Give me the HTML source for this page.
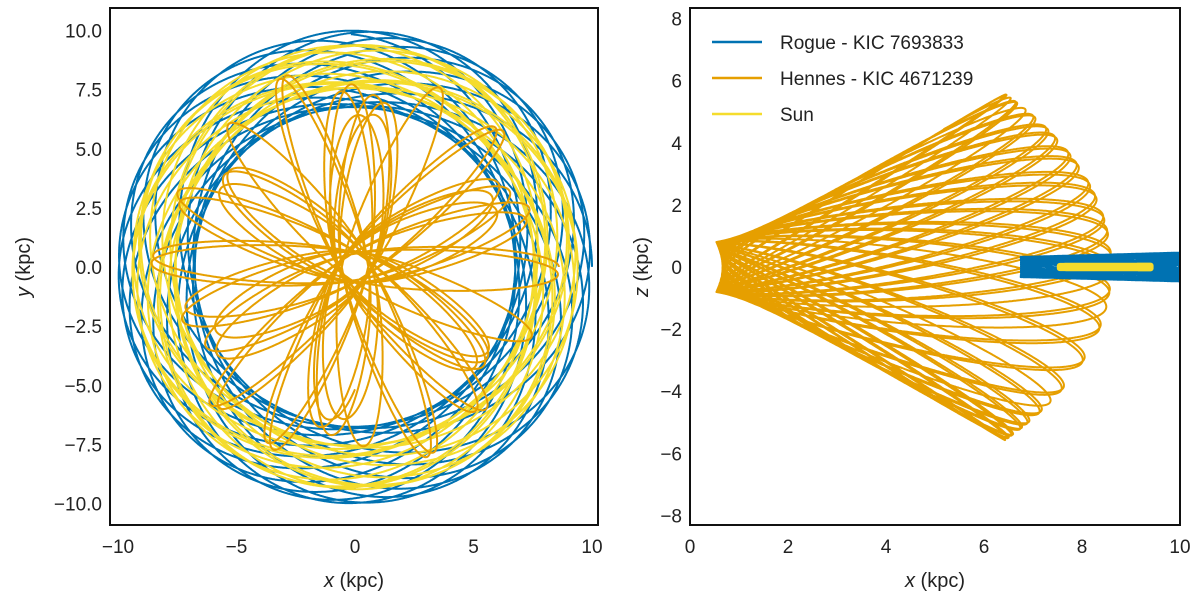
<!DOCTYPE html>
<html><head><meta charset="utf-8"><style>
body{margin:0;background:#fff;width:1200px;height:600px;overflow:hidden;font-family:"Liberation Sans",sans-serif}
svg text{font-family:"Liberation Sans",sans-serif;fill:#222}
</style></head><body>
<svg id="chart" width="1200" height="600" style="position:absolute;left:0;top:0">
<defs>
<clipPath id="clipL"><rect x="110" y="8" width="488" height="517"/></clipPath>
<clipPath id="clipR"><rect x="690" y="8" width="490" height="517"/></clipPath>
</defs>
<g id="left"></g>
<g id="right"></g>
<text x="354" y="587" font-size="20" text-anchor="middle"><tspan font-style="italic">x</tspan> (kpc)</text>
<text x="935" y="587" font-size="20" text-anchor="middle"><tspan font-style="italic">x</tspan> (kpc)</text>
<text transform="translate(30,267) rotate(-90)" font-size="20" text-anchor="middle"><tspan font-style="italic">y</tspan> (kpc)</text>
<text transform="translate(648,267) rotate(-90)" font-size="20" text-anchor="middle"><tspan font-style="italic">z</tspan> (kpc)</text>
</svg>
<script>
// orbit parameters (initial conditions, kpc and km/s; duration in steps)
const orbitNames = ["Rogue - KIC 7693833", "Hennes - KIC 4671239", "Sun"];
const orbitColors = ["#0072B2", "#E69F00", "#F5DC2C"];
const startX = [10.0, 8.6, 9.4];
const startVy = [178, 28, 196];
const startVz = [9, 42, 1];
const durationSteps = [220000, 250000, 200000];
const leftXTicks = [-10, -5, 0, 5, 10];
const leftYTicks = [-10.0, -7.5, -5.0, -2.5, 0.0, 2.5, 5.0, 7.5, 10.0];
const rightXTicks = [0, 2, 4, 6, 8, 10];
const rightYTicks = [-8, -6, -4, -2, 0, 2, 4, 6, 8];

const V0 = 220, Q = 0.95, RC = 0.5;
function integrate(x0, vy0, vz0, steps) {
  let x = x0, y = 0, z = 0, vx = 0, vy = vy0, vz = vz0;
  const dt = 0.00002, pts = [];
  function acc(x, y, z) {
    const d = x * x + y * y + z * z / (Q * Q) + RC * RC, f = -V0 * V0 / d;
    return [f * x, f * y, f * z / (Q * Q)];
  }
  let a = acc(x, y, z);
  for (let i = 0; i < steps; i++) {
    vx += 0.5 * dt * a[0]; vy += 0.5 * dt * a[1]; vz += 0.5 * dt * a[2];
    x += dt * vx; y += dt * vy; z += dt * vz;
    a = acc(x, y, z);
    vx += 0.5 * dt * a[0]; vy += 0.5 * dt * a[1]; vz += 0.5 * dt * a[2];
    if (i % 8 === 0) pts.push([x, y, z]);
  }
  return pts;
}
const NS = "http://www.w3.org/2000/svg";
function el(tag, attrs, parent) {
  const e = document.createElementNS(NS, tag);
  for (const k in attrs) e.setAttribute(k, attrs[k]);
  parent.appendChild(e); return e;
}
const lx = v => 355 + v * 23.7, ly = v => 267 - v * 23.65;
const rx = v => 690 + v * 49, ry = v => 267 - v * 31.06;
const L = document.getElementById('left'), R = document.getElementById('right');
const orbits = startX.map((x, i) => integrate(x, startVy[i], startVz[i], durationSteps[i]));
const orderL = [0, 2, 1], orderR = [1, 0, 2];
const gL = el('g', {'clip-path': 'url(#clipL)'}, L);
orderL.forEach(i => {
  const d = 'M' + orbits[i].map(p => lx(p[0]).toFixed(1) + ',' + ly(p[1]).toFixed(1)).join('L');
  const p = el('path', {d: d, fill: 'none', stroke: orbitColors[i], 'stroke-width': 2, 'stroke-linejoin': 'round'}, gL);
  
  
});
const gR = el('g', {'clip-path': 'url(#clipR)'}, R);
orderR.forEach(i => {
  const d = 'M' + orbits[i].map(p => rx(Math.hypot(p[0], p[1])).toFixed(1) + ',' + ry(p[2]).toFixed(1)).join('L');
  const p = el('path', {d: d, fill: 'none', stroke: orbitColors[i], 'stroke-width': i === 2 ? 6 : 2, 'stroke-linejoin': 'round'}, gR);
  
  
});
const f1 = el('rect', {x: 110, y: 8, width: 488, height: 517, fill: 'none', stroke: '#111', 'stroke-width': 2}, L);


const f2 = el('rect', {x: 690, y: 8, width: 490, height: 517, fill: 'none', stroke: '#111', 'stroke-width': 2}, R);


leftXTicks.forEach(v => { const t = el('text', {x: lx(v), y: 553, 'font-size': 19, 'text-anchor': 'middle'}, L); t.textContent = v < 0 ? '\u2212' + (-v) : v;
  
   });
leftYTicks.forEach(v => { const t = el('text', {x: 102, y: ly(v) + 7, 'font-size': 19, 'text-anchor': 'end'}, L); t.textContent = (v < 0 ? '\u2212' : '') + Math.abs(v).toFixed(1);
  
   });
rightXTicks.forEach(v => { const t = el('text', {x: rx(v), y: 553, 'font-size': 19, 'text-anchor': 'middle'}, R); t.textContent = v;
  
   });
rightYTicks.forEach(v => { const t = el('text', {x: 682, y: ry(v) + 7, 'font-size': 19, 'text-anchor': 'end'}, R); t.textContent = v < 0 ? '\u2212' + (-v) : v;
  
   });
orbitNames.forEach((n, i) => {
  const y = 42 + i * 36;
  const ln = el('line', {x1: 712, x2: 762, y1: y, y2: y, stroke: orbitColors[i], 'stroke-width': 2.5}, R);
  
  
  const t = el('text', {x: 780, y: y + 7, 'font-size': 19}, R); t.textContent = n;
  
  
});
</script>
</body></html>
